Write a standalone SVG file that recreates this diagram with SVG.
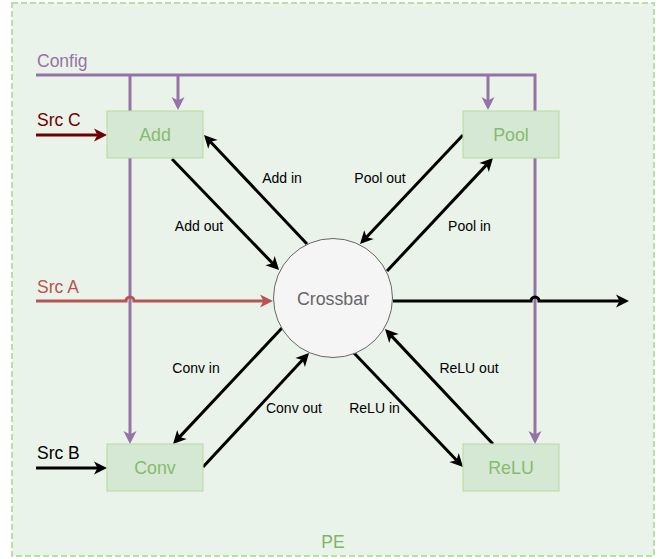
<svg xmlns="http://www.w3.org/2000/svg" width="660" height="559" viewBox="0 0 660 559">
<style>
text{font-family:"Liberation Sans",Arial,sans-serif}
.box{fill:#d5e8d4;stroke:#b5d9a0;stroke-width:1}
.nt{font-size:17.8px;fill:#88bb6c;text-anchor:middle}
.el{font-size:14px;fill:#000;text-anchor:middle}
.src{font-size:17.5px}
.k{fill:none;stroke:#000;stroke-width:3}
.p{fill:none;stroke:#9673a6;stroke-width:3}
</style>
<defs>
<marker id="ak" markerUnits="userSpaceOnUse" orient="auto" refX="0" refY="0" markerWidth="1" markerHeight="1" overflow="visible"><path d="M9,0 L-4,-6.5 L-0.5,0 L-4,6.5 Z" fill="#000"/></marker>
<marker id="ap" markerUnits="userSpaceOnUse" orient="auto" refX="0" refY="0" markerWidth="1" markerHeight="1" overflow="visible"><path d="M9,0 L-4,-6.5 L-0.5,0 L-4,6.5 Z" fill="#9673a6"/></marker>
<marker id="ar" markerUnits="userSpaceOnUse" orient="auto" refX="0" refY="0" markerWidth="1" markerHeight="1" overflow="visible"><path d="M9,0 L-4,-6.5 L-0.5,0 L-4,6.5 Z" fill="#b85450"/></marker>
<marker id="ad" markerUnits="userSpaceOnUse" orient="auto" refX="0" refY="0" markerWidth="1" markerHeight="1" overflow="visible"><path d="M9,0 L-4,-6.5 L-0.5,0 L-4,6.5 Z" fill="#6f0000"/></marker>
</defs>
<g id="pe">
<rect x="12" y="3" width="642" height="553" fill="#eaf3e9" stroke="#b9dea6" stroke-width="2" stroke-dasharray="6 3"/>
<text x="333" y="548" font-size="17.5px" fill="#82b366" text-anchor="middle">PE</text>
</g>
<g id="connectors">
<path class="p" d="M36,75 H535 V435" marker-end="url(#ap)"/>
<path class="p" d="M130,75 V435" marker-end="url(#ap)"/>
<path class="p" d="M178,75 V101" marker-end="url(#ap)"/>
<path class="p" d="M488,75 V101" marker-end="url(#ap)"/>
<path d="M36,135 H98" fill="none" stroke="#6f0000" stroke-width="3" marker-end="url(#ad)"/>
<path class="k" d="M36,468 H98" marker-end="url(#ak)"/>
<path d="M36,301 H126 A4,4 0 0 1 134,301 H264" fill="none" stroke="#b85450" stroke-width="3" marker-end="url(#ar)"/>
<path class="k" d="M393,301 H531 A4,4 0 0 1 539,301 H620" marker-end="url(#ak)"/>
<path class="k" d="M307,244 L210.2,141.5" marker-end="url(#ak)"/>
<path class="k" d="M172,159 L272.8,263.5" marker-end="url(#ak)"/>
<path class="k" d="M463,135 L366.2,237.5" marker-end="url(#ak)"/>
<path class="k" d="M387,271 L486.8,164.6" marker-end="url(#ak)"/>
<path class="k" d="M282,328 L179.2,437.4" marker-end="url(#ak)"/>
<path class="k" d="M203,467 L302.9,359.6" marker-end="url(#ak)"/>
<path class="k" d="M354,353 L456.8,460.5" marker-end="url(#ak)"/>
<path class="k" d="M493,444 L391.2,335.6" marker-end="url(#ak)"/>
<text class="el" x="282" y="183">Add in</text>
<text class="el" x="199" y="231">Add out</text>
<text class="el" x="380" y="183">Pool out</text>
<text class="el" x="469.5" y="231">Pool in</text>
<text class="el" x="196" y="373">Conv in</text>
<text class="el" x="294" y="413">Conv out</text>
<text class="el" x="374.5" y="413">ReLU in</text>
<text class="el" x="469" y="373">ReLU out</text>
<text class="src" x="37" y="67" fill="#9673a6">Config</text>
<text class="src" x="37" y="126" fill="#6f0000">Src C</text>
<text class="src" x="37" y="293" fill="#b85450">Src A</text>
<text class="src" x="37" y="459" fill="#000">Src B</text>
</g>
<g id="add"><rect class="box" x="107" y="111" width="96" height="47"/><text class="nt" x="155" y="141">Add</text></g>
<g id="pool"><rect class="box" x="463" y="111" width="96" height="47"/><text class="nt" x="511" y="141">Pool</text></g>
<g id="conv"><rect class="box" x="107" y="444" width="96" height="47"/><text class="nt" x="155" y="474">Conv</text></g>
<g id="relu"><rect class="box" x="463" y="444" width="96" height="47"/><text class="nt" x="511" y="474">ReLU</text></g>
<g id="crossbar"><circle cx="333" cy="298" r="59.5" fill="#f5f5f5" stroke="#666666" stroke-width="1"/><text x="333" y="304.5" font-size="17.8px" fill="#666666" text-anchor="middle">Crossbar</text></g>
</svg>
